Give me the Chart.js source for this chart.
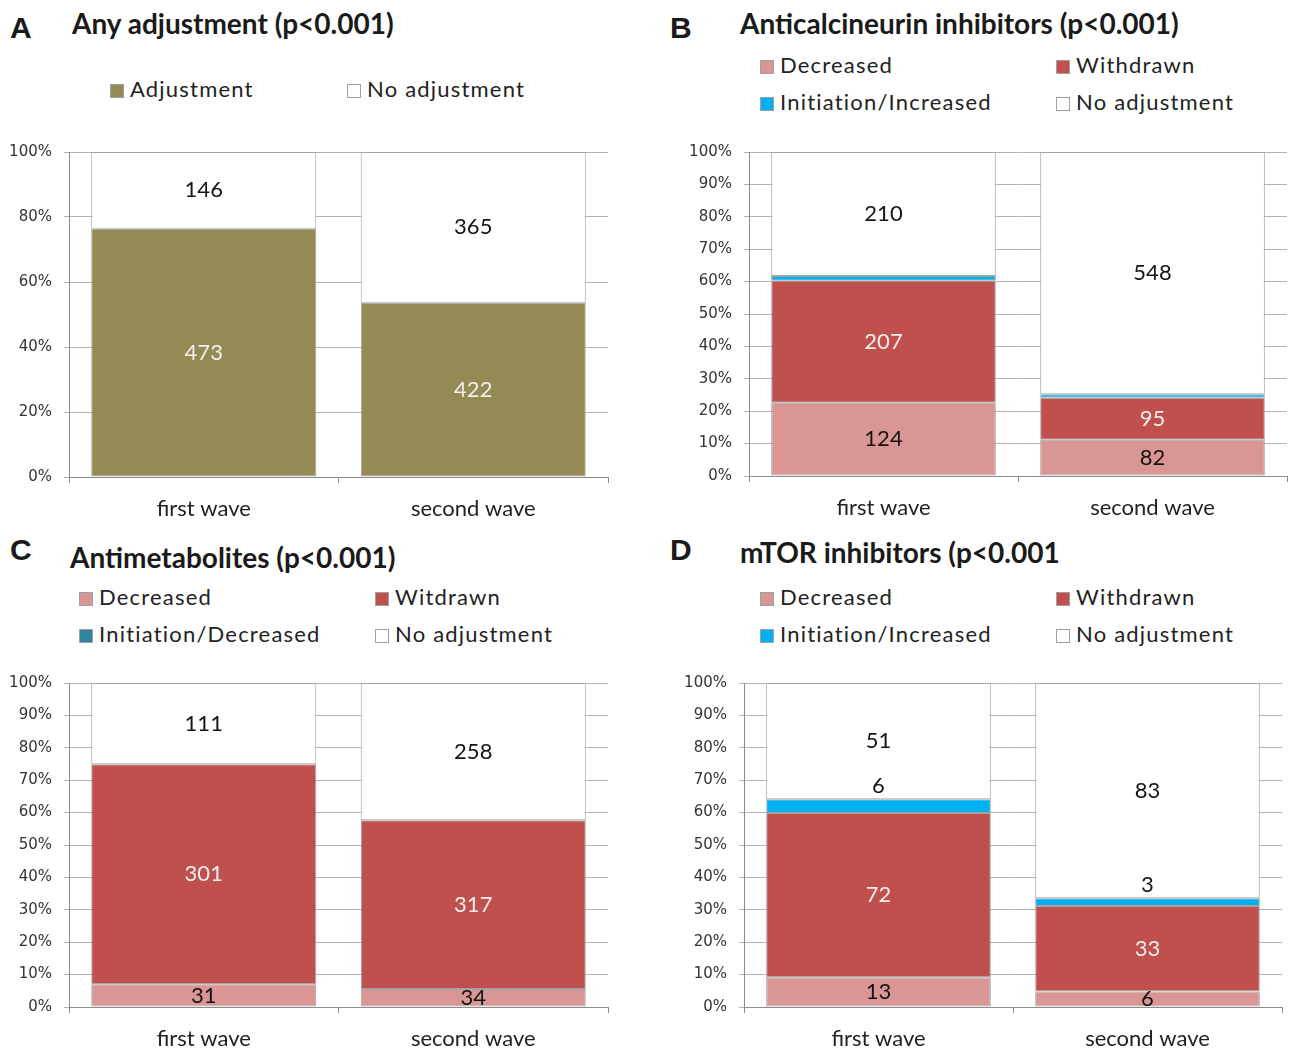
<!DOCTYPE html>
<html>
<head>
<meta charset="utf-8">
<script src="https://cdn.jsdelivr.net/npm/chart.js@4.4.0/dist/chart.umd.min.js"></script>
<style>
  body { margin: 0; background: #fff; width: 1292px; height: 1050px; position: relative; overflow: hidden; color: #1a1a1a; }
  canvas { position: absolute; }
  .letter { position: absolute; font: bold 30px "Liberation Sans", Arial, sans-serif; line-height: 30px; }
  .title { position: absolute; font: bold 28px Lato, sans-serif; line-height: 28px; white-space: nowrap; }
  .leg { position: absolute; font: 22px Lato, sans-serif; letter-spacing: 1.2px; line-height: 22px; white-space: nowrap; color: #222; }
  .leg i { display: inline-block; width: 14px; height: 14px; box-sizing: border-box; border: 1px solid #a0a0a0; vertical-align: -1px; margin-right: 6px; }
</style>
</head>
<body>
<canvas id="cA" width="646" height="390" style="left:0;top:140px"></canvas>
<canvas id="cB" width="646" height="390" style="left:646px;top:140px"></canvas>
<canvas id="cC" width="646" height="378" style="left:0;top:672px"></canvas>
<canvas id="cD" width="646" height="378" style="left:646px;top:672px"></canvas>
<script>
// data: patient counts per wave
var waves = ["first wave", "second wave"];

var adjA = [473, 422];
var noAdjA = [146, 365];

var decB = [124, 82];
var wdrB = [207, 95];
var incB = [8, 8];      // thin unlabelled band
var noB = [210, 548];

var decC = [31, 34];
var wdrC = [301, 317];
var incC = [0, 0];
var noC = [111, 258];

var decD = [13, 6];
var wdrD = [72, 33];
var incD = [6, 3];
var noD = [51, 83];

var OLIVE = "#948a54", WHITE = "#ffffff", PINK = "#d99694", RED = "#c0504d", BLUE = "#00b0f0", TEAL = "#31859c";
var DARK = "#141414", LIGHT = "#f6eeee";

// numbers inside the bars
var countLabels = {
  id: "countLabels",
  afterDatasetsDraw(chart) {
    var ctx = chart.ctx;
    ctx.save();
    ctx.font = "22px Lato";
    ctx.textAlign = "center";
    ctx.textBaseline = "middle";
    chart.data.datasets.forEach(function (ds, i) {
      if (!ds.labelPos) return;
      chart.getDatasetMeta(i).data.forEach(function (bar, j) {
        var n = ds.counts[j];
        if (!n) return;
        var y = ds.labelPos === "above" ? bar.y - 13 : (bar.y + bar.base) / 2;
        ctx.fillStyle = ds.labelColor;
        ctx.fillText(n, bar.x, y);
      });
    });
    ctx.restore();
  }
};

function shares(series) {
  var totals = waves.map(function (_, j) {
    return series.reduce(function (s, a) { return s + a[j]; }, 0);
  });
  return series.map(function (a) {
    return a.map(function (v, j) { return v ? v / totals[j] * 100 : null; });
  });
}

function drawPanel(p) {
  var pct = shares(p.series);
  var datasets = p.series.map(function (s, i) {
    return {
      label: p.names[i],
      data: pct[i],
      counts: s,
      backgroundColor: p.colors[i],
      borderColor: "#a3a3a3",
      borderWidth: 1,
      borderSkipped: false,
      labelPos: p.labelPos[i],
      labelColor: p.labelColors[i],
      barPercentage: 0.835,
      categoryPercentage: 1
    };
  });
  new Chart(document.getElementById(p.id), {
    type: "bar",
    data: { labels: waves, datasets: datasets },
    options: {
      responsive: false,
      animation: false,
      layout: { padding: { top: p.box.top, right: p.box.right, left: 0, bottom: 0 } },
      plugins: { legend: { display: false }, tooltip: { enabled: false } },
      scales: {
        x: {
          stacked: true,
          grid: { offset: true, drawOnChartArea: false, tickLength: 6, color: "#8c8c8c" },
          border: { color: "#8c8c8c" },
          ticks: { font: { family: "Lato", size: 22 }, color: "#222", padding: 13 },
          afterFit: function (s) { s.height = p.box.xh; s.paddingLeft = 0; s.paddingRight = 0; }
        },
        y: {
          stacked: true,
          min: 0,
          max: 100,
          ticks: {
            stepSize: p.step,
            callback: function (v) { return v + "%"; },
            font: { family: "DejaVu Sans", size: 15 },
            color: "#333",
            padding: 12
          },
          grid: { color: "#b3b3b3", tickLength: 5 },
          border: { color: "#8c8c8c" },
          afterFit: function (s) { s.width = p.box.yw; s.paddingTop = 0; s.paddingBottom = 0; }
        }
      }
    },
    plugins: [countLabels]
  });

  // panel letter, title and legend as page text
  var el = document.createElement("div");
  el.className = "letter";
  el.textContent = p.letter;
  el.style.left = p.letterAt[0] + "px";
  el.style.top = (p.letterAt[1] - 15) + "px";
  document.body.appendChild(el);

  el = document.createElement("div");
  el.className = "title";
  el.textContent = p.title;
  el.style.left = p.titleAt[0] + "px";
  el.style.top = (p.titleAt[1] - 15) + "px";
  document.body.appendChild(el);

  p.names.forEach(function (name, i) {
    var pos = p.legendAt[i];
    var item = document.createElement("div");
    item.className = "leg";
    item.innerHTML = '<i style="background:' + p.colors[i] + '"></i>' + name;
    item.style.left = pos[0] + "px";
    item.style.top = (pos[1] - 11) + "px";
    document.body.appendChild(item);
  });
}

drawPanel({
  id: "cA", letter: "A", title: "Any adjustment (p<0.001)",
  letterAt: [10, 28], titleAt: [72, 24],
  names: ["Adjustment", "No adjustment"],
  colors: [OLIVE, WHITE],
  series: [adjA, noAdjA],
  labelPos: ["center", "center"],
  labelColors: [LIGHT, DARK],
  legendAt: [[110, 89], [347, 89]],
  step: 20,
  box: { top: 12, right: 38, yw: 69, xh: 53 }
});

drawPanel({
  id: "cB", letter: "B", title: "Anticalcineurin inhibitors (p<0.001)",
  letterAt: [670, 28], titleAt: [740, 24],
  names: ["Decreased", "Withdrawn", "Initiation/Increased", "No adjustment"],
  colors: [PINK, RED, BLUE, WHITE],
  series: [decB, wdrB, incB, noB],
  labelPos: ["center", "center", null, "center"],
  labelColors: [DARK, LIGHT, DARK, DARK],
  legendAt: [[760, 65], [1056, 65], [760, 102], [1056, 102]],
  step: 10,
  box: { top: 12, right: 5, yw: 103, xh: 54 }
});

drawPanel({
  id: "cC", letter: "C", title: "Antimetabolites (p<0.001)",
  letterAt: [10, 550], titleAt: [70, 558],
  names: ["Decreased", "Witdrawn", "Initiation/Decreased", "No adjustment"],
  colors: [PINK, RED, TEAL, WHITE],
  series: [decC, wdrC, incC, noC],
  labelPos: ["center", "center", null, "center"],
  labelColors: [DARK, LIGHT, DARK, DARK],
  legendAt: [[79, 597], [375, 597], [79, 634], [375, 634]],
  step: 10,
  box: { top: 11, right: 38, yw: 69, xh: 43 }
});

drawPanel({
  id: "cD", letter: "D", title: "mTOR inhibitors (p<0.001",
  letterAt: [670, 550], titleAt: [740, 553],
  names: ["Decreased", "Withdrawn", "Initiation/Increased", "No adjustment"],
  colors: [PINK, RED, BLUE, WHITE],
  series: [decD, wdrD, incD, noD],
  labelPos: ["center", "center", "above", "center"],
  labelColors: [DARK, LIGHT, DARK, DARK],
  legendAt: [[760, 597], [1056, 597], [760, 634], [1056, 634]],
  step: 10,
  box: { top: 11, right: 10, yw: 98, xh: 43 }
});
</script>
</body>
</html>
